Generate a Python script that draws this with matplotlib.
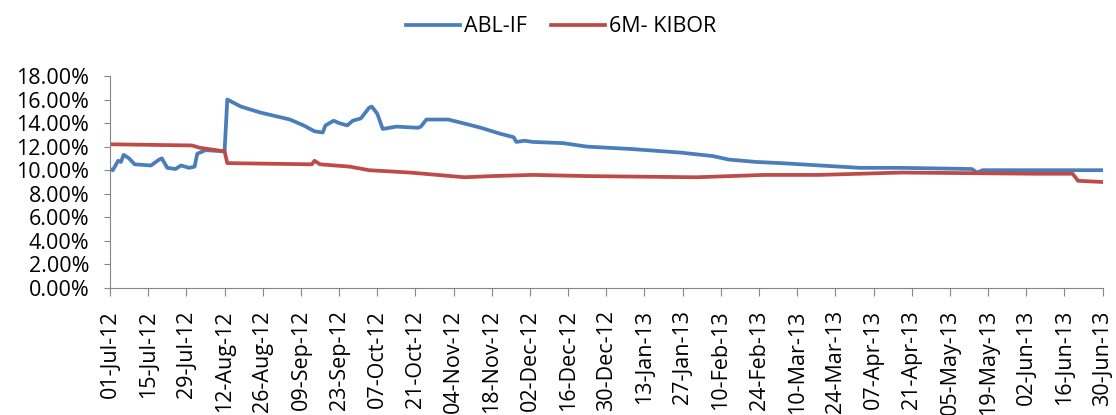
import numpy as np
import pandas as pd
import matplotlib
matplotlib.use("Agg")
import matplotlib.pyplot as plt
import matplotlib.dates as mdates
from matplotlib.ticker import FuncFormatter

plt.rcParams['font.family'] = ['Open Sans', 'DejaVu Sans']

# --- data ---
abl_dates = ["2012-07-01", "2012-07-02", "2012-07-04", "2012-07-05", "2012-07-06",
             "2012-07-08", "2012-07-10", "2012-07-16", "2012-07-19", "2012-07-20",
             "2012-07-22", "2012-07-25", "2012-07-27", "2012-07-30", "2012-08-01",
             "2012-08-02", "2012-08-05", "2012-08-12", "2012-08-13", "2012-08-18",
             "2012-08-25", "2012-09-05", "2012-09-10", "2012-09-14", "2012-09-17",
             "2012-09-18", "2012-09-21", "2012-09-23", "2012-09-26", "2012-09-28",
             "2012-10-01", "2012-10-04", "2012-10-05", "2012-10-07", "2012-10-09",
             "2012-10-14", "2012-10-22", "2012-10-23", "2012-10-25", "2012-11-02",
             "2012-11-09", "2012-11-14", "2012-11-21", "2012-11-26", "2012-11-27",
             "2012-11-30", "2012-12-03", "2012-12-14", "2012-12-23", "2013-01-08",
             "2013-01-26", "2013-02-07", "2013-02-13", "2013-02-23", "2013-03-04",
             "2013-04-02", "2013-04-17", "2013-05-13", "2013-05-15", "2013-05-17",
             "2013-06-30"]
abl_values = [10.1, 10.0, 10.8, 10.7, 11.3,
              11.0, 10.5, 10.4, 10.9, 11.0,
              10.2, 10.1, 10.4, 10.2, 10.3,
              11.4, 11.7, 11.6, 16.0, 15.4,
              14.9, 14.3, 13.8, 13.3, 13.2,
              13.8, 14.2, 14.0, 13.8, 14.2,
              14.4, 15.3, 15.4, 14.8, 13.5,
              13.7, 13.6, 13.7, 14.3, 14.3,
              13.9, 13.6, 13.1, 12.8, 12.4,
              12.5, 12.4, 12.3, 12.0, 11.8,
              11.5, 11.2, 10.9, 10.7, 10.6,
              10.2, 10.2, 10.1, 9.8, 10.0,
              10.0]

kibor_dates = ["2012-07-01", "2012-07-31", "2012-08-03", "2012-08-12", "2012-08-13",
               "2012-09-13", "2012-09-14", "2012-09-16", "2012-09-27", "2012-10-04",
               "2012-10-19", "2012-10-29", "2012-11-08", "2012-11-18", "2012-12-03",
               "2012-12-23", "2013-02-01", "2013-02-26", "2013-03-18", "2013-04-17",
               "2013-06-05", "2013-06-19", "2013-06-21", "2013-06-30"]
kibor_values = [12.2, 12.1, 11.9, 11.6, 10.6,
                10.5, 10.8, 10.5, 10.3, 10.0,
                9.8, 9.6, 9.4, 9.5, 9.6,
                9.5, 9.4, 9.6, 9.6, 9.8,
                9.7, 9.7, 9.1, 9.0]

y_ticks = np.arange(0, 19, 2)

abl_x = pd.to_datetime(abl_dates)
kibor_x = pd.to_datetime(kibor_dates)
start, end = pd.Timestamp("2012-07-01"), pd.Timestamp("2013-06-30")
x_ticks = pd.date_range(start, end, freq="14D")

fig = plt.figure(figsize=(11.16, 4.15), dpi=100)
ax = fig.add_axes([0.0986, 0.306, 0.8894, 0.511])

ax.plot(abl_x, abl_values, color='#4A7EBB', linewidth=2.7, label='ABL-IF')
ax.plot(kibor_x, kibor_values, color='#BE4B48', linewidth=2.7, label='6M- KIBOR')

ax.set_xlim(start, end)
ax.set_ylim(0, 18)
ax.set_yticks(y_ticks)
ax.yaxis.set_major_formatter(FuncFormatter(lambda v, p: f"{v:.2f}%"))
ax.set_xticks(x_ticks)
ax.xaxis.set_major_formatter(mdates.DateFormatter('%d-%b-%y'))
plt.setp(ax.get_xticklabels(), rotation=90)

for s in ['top', 'right']:
    ax.spines[s].set_visible(False)
for s in ['left', 'bottom']:
    ax.spines[s].set_color('#868686')
ax.tick_params(axis='both', colors='#868686', labelcolor='black', labelsize=15.5)
ax.tick_params(axis='y', length=4, pad=11)
ax.tick_params(axis='x', length=6, pad=10)

fig.legend(loc='center', bbox_to_anchor=(0.503, 0.935), ncol=2, frameon=False,
           fontsize=15.5, handlelength=2.5, handletextpad=0.2, columnspacing=1.1)

fig.savefig('out.png', dpi=100)
